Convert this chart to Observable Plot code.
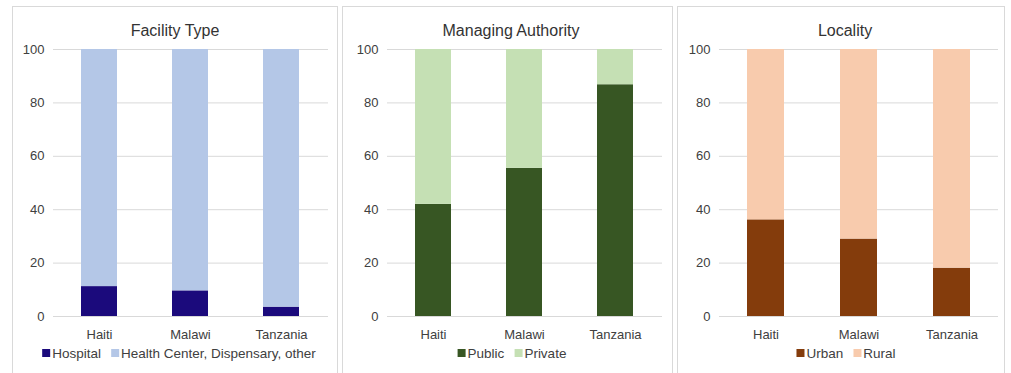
<!DOCTYPE html>
<html>
<head>
<meta charset="utf-8">
<script src="https://cdn.jsdelivr.net/npm/d3@7"></script>
<script src="https://cdn.jsdelivr.net/npm/@observablehq/plot@0.6"></script>
<style>
  html, body { margin: 0; padding: 0; background: #fff; }
  body { position: relative; width: 1011px; height: 373px; overflow: hidden;
         font-family: "Liberation Sans", Arial, sans-serif; color: #404040; }
  .panel { position: absolute; top: 6px; height: 420px; box-sizing: border-box;
           border: 1px solid #d9d9d9; }
  .title { position: absolute; top: 21px; font-size: 16px; line-height: 20px;
           text-align: center; white-space: nowrap; color: #333; transform: translateX(-50%); }
  .legend { position: absolute; top: 346px; font-size: 13.5px; line-height: 16px;
            white-space: nowrap; transform: translateX(-50%); }
  .legend span.item { margin-right: 10px; }
  .legend span.item:last-child { margin-right: 0; }
  .legend i { display: inline-block; width: 8px; height: 8px; margin-right: 2px; vertical-align: 1px; }
</style>
</head>
<body>
<script>
// Countries along the x axis
const countries = ["Haiti", "Malawi", "Tanzania"];
const yTicks = [0, 20, 40, 60, 80, 100];

// Facility type (% of facilities)
const facilitySeries = ["Hospital", "Health Center, Dispensary, other"];
const hospital = [11.2, 9.6, 3.5];
const healthCenter = [88.8, 90.4, 96.5];

// Managing authority (%)
const authoritySeries = ["Public", "Private"];
const publicShare = [42, 55.5, 86.8];
const privateShare = [58, 44.5, 13.2];

// Locality (%)
const localitySeries = ["Urban", "Rural"];
const urban = [36.2, 29, 18.1];
const rural = [63.8, 71, 81.9];

const panels = [
  {title: "Facility Type", series: facilitySeries, values: [hospital, healthCenter],
   colors: ["#1b0a7c", "#b4c7e7"], left: 12, width: 326, marginLeft: 41, marginRight: 10,
   titleX: 175, legendX: 179},
  {title: "Managing Authority", series: authoritySeries, values: [publicShare, privateShare],
   colors: ["#375623", "#c5e0b4"], left: 342, width: 331, marginLeft: 45, marginRight: 11,
   titleX: 511, legendX: 512},
  {title: "Locality", series: localitySeries, values: [urban, rural],
   colors: ["#843c0c", "#f8cbad"], left: 677, width: 328, marginLeft: 42, marginRight: 7,
   titleX: 845, legendX: 846}
];

for (const p of panels) {
  const box = document.createElement("div");
  box.className = "panel";
  box.style.left = p.left + "px";
  box.style.width = p.width + "px";
  document.body.appendChild(box);

  const title = document.createElement("div");
  title.className = "title";
  title.style.left = p.titleX + "px";
  title.textContent = p.title;
  document.body.appendChild(title);

  // One row per segment; bottom series first so it stacks at the base
  const rows = [];
  p.series.forEach((s, si) => {
    countries.forEach((c, ci) => rows.push({country: c, series: s, value: p.values[si][ci]}));
  });

  const chart = Plot.plot({
    width: p.width,
    height: 304,
    marginTop: 9,
    marginBottom: 28,
    marginLeft: p.marginLeft,
    marginRight: p.marginRight,
    style: {fontFamily: "'Liberation Sans', Arial, sans-serif", fontSize: "13px",
            color: "#404040", background: "transparent", overflow: "visible"},
    x: {domain: countries, paddingInner: 0.6, paddingOuter: 0.3, align: 0.5},
    y: {domain: [0, 100]},
    color: {domain: p.series, range: p.colors},
    marks: [
      Plot.gridY(yTicks, {stroke: "#d9d9d9", strokeOpacity: 1}),
      Plot.barY(rows, Plot.stackY({x: "country", y: "value", fill: "series"})),
      Plot.axisY(yTicks, {tickSize: 0, tickPadding: 9, label: null}),
      Plot.axisX({tickSize: 0, tickPadding: 13, label: null})
    ]
  });
  chart.style.position = "absolute";
  chart.style.left = p.left + "px";
  chart.style.top = "40px";
  document.body.appendChild(chart);

  const legend = document.createElement("div");
  legend.className = "legend";
  legend.style.left = p.legendX + "px";
  p.series.forEach((s, i) => {
    const item = document.createElement("span");
    item.className = "item";
    const sw = document.createElement("i");
    sw.style.background = p.colors[i];
    item.appendChild(sw);
    item.appendChild(document.createTextNode(s));
    legend.appendChild(item);
  });
  document.body.appendChild(legend);
}
</script>
</body>
</html>
